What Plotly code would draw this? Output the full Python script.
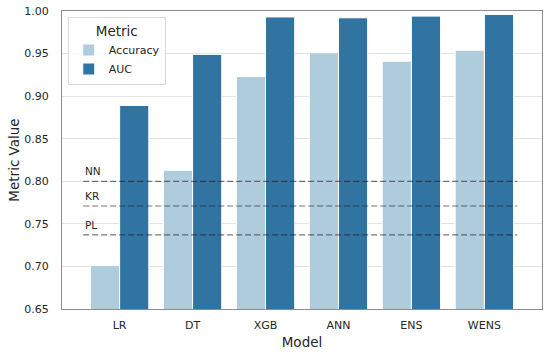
import plotly.graph_objects as go

models = ["LR", "DT", "XGB", "ANN", "ENS", "WENS"]
accuracy = [0.701, 0.813, 0.923, 0.951, 0.941, 0.954]
auc = [0.889, 0.949, 0.993, 0.992, 0.994, 0.996]
baseline_names = ["NN", "KR", "PL"]
baseline_values = [0.800, 0.771, 0.737]

FONT = "DejaVu Sans"
TXT = "#262626"
LIGHT = "#aeccdb"
DARK = "#3274a1"

fig = go.Figure()
fig.add_trace(go.Bar(x=models, y=accuracy, name="Accuracy", marker=dict(color=LIGHT, line=dict(color="white", width=1))))
fig.add_trace(go.Bar(x=models, y=auc, name="AUC", marker=dict(color=DARK, line=dict(color="white", width=1))))

for name, val in zip(baseline_names, baseline_values):
    fig.add_shape(type="line", xref="x", yref="y", x0=-0.5, x1=5.45, y0=val, y1=val,
                  line=dict(color="rgba(30,30,30,0.6)", width=1.2, dash="6px,3px"), layer="above")
    fig.add_annotation(x=-0.5, y=val, xref="x", yref="y", text=name, showarrow=False,
                       xanchor="left", yanchor="bottom", yshift=2,
                       font=dict(family=FONT, size=10.5, color=TXT))

fig.update_layout(
    width=550, height=352,
    margin=dict(l=62, r=8, t=11, b=43),
    paper_bgcolor="white", plot_bgcolor="white",
    barmode="group", bargap=0.2, bargroupgap=0.0,
    font=dict(family=FONT, color=TXT, size=11),
    legend=dict(
        title=dict(text="Metric", font=dict(family=FONT, size=13.5, color=TXT), side="top center"),
        x=0.012, y=0.98, xanchor="left", yanchor="top",
        bgcolor="rgba(255,255,255,0.85)", bordercolor="#d9d9d9", borderwidth=1,
        font=dict(family=FONT, size=11, color=TXT),
    ),
    showlegend=True,
)
fig.update_xaxes(
    range=[-0.79, 5.79], showgrid=False, showline=True, mirror=True,
    linecolor="#8c8c8c", linewidth=1.25, ticks="", ticklabelstandoff=6,
    tickfont=dict(family=FONT, size=11, color=TXT), automargin=False,
    title=dict(text="Model", font=dict(family=FONT, size=13.5, color=TXT), standoff=6),
)
fig.update_yaxes(
    range=[0.65, 1.0], tickvals=[0.65, 0.70, 0.75, 0.80, 0.85, 0.90, 0.95, 1.00],
    tickformat=".2f", showgrid=True, gridcolor="#e3e3e3", gridwidth=1,
    showline=True, mirror=True, linecolor="#8c8c8c", linewidth=1.25,
    ticks="", ticklabelstandoff=10, zeroline=False, automargin=False,
    tickfont=dict(family=FONT, size=11, color=TXT),
    title=dict(text="Metric Value", font=dict(family=FONT, size=13.5, color=TXT), standoff=1),
)

fig.write_html("out.html", config={"displayModeBar": False})
with open("out.html", "r", encoding="utf-8") as f:
    html = f.read()
html = html.replace("<body>", '<body style="margin:0;">', 1)
with open("out.html", "w", encoding="utf-8") as f:
    f.write(html)
